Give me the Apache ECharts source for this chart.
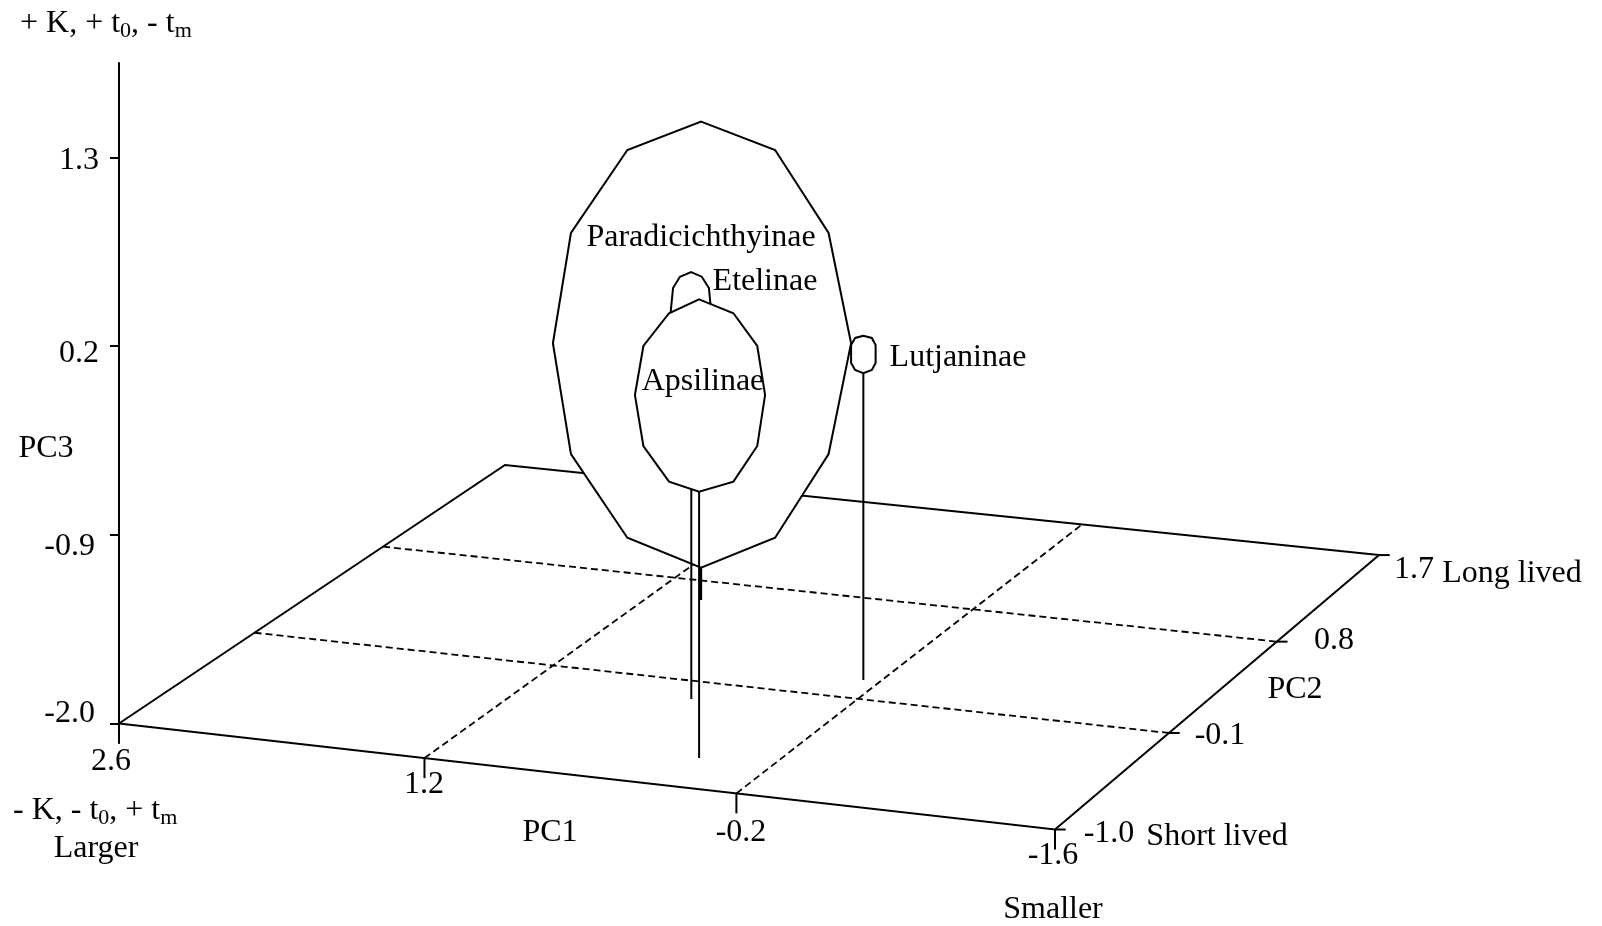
<!DOCTYPE html>
<html>
<head>
<meta charset="utf-8">
<style>html,body{margin:0;padding:0;background:#fff}#c{width:1602px;height:926px}</style>
<script src="https://cdn.jsdelivr.net/npm/echarts@6/dist/echarts.min.js"></script>
</head>
<body>
<div id="c"></div>
<script>
// ---- axis ticks ----
const pc1Ticks = [2.6, 1.2, -0.2, -1.6];
const pc2Ticks = [-1.0, -0.1, 0.8, 1.7];
const pc3Ticks = [-2.0, -0.9, 0.2, 1.3];

// ---- floor corners, read in plot units [PC1 scale, PC3 scale] ----
const floorFrontLeft  = [2.6, -2.0];
const floorFrontRight = [-1.6, -2.618];
const floorBackRight  = [-3.054, -1.018];
const floorBackLeft   = [0.868, -0.493];

// ---- group outlines, in plot units [PC1 scale, PC3 scale] ----
const paradicichthyinae = [[-0.012,1.509],[-0.344,1.344],[-0.584,0.860],[-0.685,0.217],[-0.584,-0.429],[-0.344,-0.917],[-0.012,-1.092],[0.319,-0.917],[0.572,-0.429],[0.653,0.217],[0.572,0.860],[0.319,1.344]];
const etelinae = [[0.033,0.632],[-0.015,0.605],[-0.047,0.539],[-0.061,0.353],[-0.047,0.178],[0.033,0.090],[0.114,0.178],[0.128,0.353],[0.114,0.539],[0.083,0.605]];
const apsilinae = [[-0.003,0.473],[-0.157,0.392],[-0.264,0.201],[-0.299,-0.085],[-0.264,-0.382],[-0.157,-0.590],[-0.003,-0.648],[0.132,-0.590],[0.247,-0.382],[0.285,-0.085],[0.247,0.201],[0.132,0.392]];
const lutjaninae = [[-0.740,0.261],[-0.703,0.248],[-0.685,0.207],[-0.685,0.102],[-0.703,0.061],[-0.740,0.042],[-0.778,0.061],[-0.795,0.102],[-0.795,0.207],[-0.778,0.248]];

// ---- drop lines from each group to the floor ----
const paradicichthyinaeStem = [[-0.010,-1.092],[-0.010,-1.280]];
const etelinaeStem = [[0.032,0.090],[0.032,-1.857]];
const apsilinaeStem = [[-0.003,-0.648],[-0.003,-2.201]];
const lutjaninaeStem = [[-0.740,0.042],[-0.740,-1.746]];

const FONT = '"Liberation Serif","Times New Roman",serif';
const FS = 32, INK = '#000', LW = 2;

// Perspective map of the floor: (PC1, PC2) -> plot units
function floorMap() {
  const [p0, p1, p2, p3] = [floorFrontLeft, floorFrontRight, floorBackRight, floorBackLeft];
  const sx = p0[0]-p1[0]+p2[0]-p3[0], sy = p0[1]-p1[1]+p2[1]-p3[1];
  const dx1 = p1[0]-p2[0], dx2 = p3[0]-p2[0], dy1 = p1[1]-p2[1], dy2 = p3[1]-p2[1];
  const det = dx1*dy2-dx2*dy1;
  const g = (sx*dy2-dx2*sy)/det, h = (dx1*sy-sx*dy1)/det;
  const a = p1[0]-p0[0]+g*p1[0], b = p3[0]-p0[0]+h*p3[0];
  const d = p1[1]-p0[1]+g*p1[1], e = p3[1]-p0[1]+h*p3[1];
  return function (pc1, pc2) {
    const u = (2.6-pc1)/4.2, w = (pc2+1.0)/2.7, q = 1+g*u+h*w;
    return [(a*u+b*w+p0[0])/q, (d*u+e*w+p0[1])/q];
  };
}
const floor = floorMap();

function line(data, z, opt) {
  return Object.assign({
    type: 'line', data, z, clip: false, symbol: 'none', silent: true, animation: false,
    lineStyle: { color: INK, width: LW, cap: 'butt', join: 'miter' }
  }, opt || {});
}
function dashed(data) {
  return line(data, 2, { lineStyle: { color: INK, width: 1.8, type: [7, 4] } });
}
function polygon(points, z) {
  return {
    type: 'custom', z, silent: true, animation: false, clip: false,
    coordinateSystem: 'cartesian2d', data: [points[0]],
    renderItem: function (params, api) {
      return {
        type: 'polygon',
        shape: { points: points.map(p => api.coord(p)) },
        style: { fill: '#fff', stroke: INK, lineWidth: LW, lineJoin: 'miter' }
      };
    }
  };
}

const series = [];
// floor outline
series.push(line([floorFrontLeft, floorFrontRight, floorBackRight, floorBackLeft, floorFrontLeft], 2));
// floor grid
[1.2, -0.2].forEach(v => series.push(dashed([floor(v, -1.0), floor(v, 1.7)])));
[-0.1, 0.8].forEach(v => series.push(dashed([floor(2.6, v), floor(-1.6, v)])));
// floor ticks
pc1Ticks.forEach(v => { const p = floor(v, -1.0); series.push(line([p, [p[0], p[1]-0.1166]], 2)); });
pc2Ticks.forEach(v => { const p = floor(-1.6, v); series.push(line([p, [p[0]-0.048, p[1]]], 2)); });
// groups back to front
series.push(line(paradicichthyinaeStem, 3, { lineStyle: { color: INK, width: 3 } }));
series.push(polygon(paradicichthyinae, 4));
series.push(line(etelinaeStem, 5));
series.push(polygon(etelinae, 6));
series.push(line(apsilinaeStem, 7));
series.push(polygon(apsilinae, 8));
series.push(line(lutjaninaeStem, 9));
series.push(polygon(lutjaninae, 10));

function text(t, x, y, align, rich) {
  const st = { text: t, x, y, fill: INK, font: FS + 'px ' + FONT, textAlign: align || 'center', textVerticalAlign: 'middle' };
  if (rich) st.rich = rich;
  return { type: 'text', z: 100, silent: true, style: st };
}
const subRich = {
  b: { fontSize: FS, fontFamily: FONT, fill: INK, lineHeight: 36 },
  s: { fontSize: 22, fontFamily: FONT, fill: INK, lineHeight: 26, verticalAlign: 'bottom' }
};

const chart = echarts.init(document.getElementById('c'), null, { renderer: 'canvas' });
chart.setOption({
  animation: false,
  backgroundColor: '#fff',
  grid: { left: 119, right: 210, top: 63, bottom: 183, containLabel: false },
  xAxis: { type: 'value', inverse: true, min: -3.11212, max: 2.6, show: false, splitLine: { show: false } },
  yAxis: {
    type: 'value', min: -2.11369, max: 1.85097, position: 'left',
    axisLine: { show: true, onZero: false, lineStyle: { color: INK, width: LW } },
    axisTick: { show: true, length: 9, inside: false, customValues: pc3Ticks, lineStyle: { color: INK, width: LW } },
    splitLine: { show: false },
    axisLabel: {
      show: true, customValues: pc3Ticks, margin: 20, color: INK, fontFamily: FONT, fontSize: FS,
      formatter: function (v) {
        const s = v.toFixed(1);
        if (v === -2) return '{low|' + s + '}';
        if (v === -0.9) return '{mid|' + s + '}';
        if (v === 0.2) return '{top2|' + s + '}';
        return '{top1|' + s + '}';
      },
      rich: {
        low: { fontSize: FS, fontFamily: FONT, padding: [0, 4, 19, 0] },
        mid: { fontSize: FS, fontFamily: FONT, padding: [24, 4, 0, 0] },
        top2: { fontSize: FS, fontFamily: FONT, padding: [14, 0, 0, 0] },
        top1: { fontSize: FS, fontFamily: FONT, padding: [6, 0, 0, 0] }
      }
    }
  },
  series,
  graphic: { elements: [
    text('{b|+ K, + t}{s|0}{b|, - t}{s|m}', 20, 24, 'left', subRich),
    text('{b|- K, - t}{s|0}{b|, + t}{s|m}', 13, 811, 'left', subRich),
    text('Larger', 96, 849),
    text('PC3', 46, 449),
    text('PC1', 550, 833),
    text('PC2', 1295, 690),
    text(pc1Ticks[0].toFixed(1), 111, 762),
    text(pc1Ticks[1].toFixed(1), 424, 785),
    text(pc1Ticks[2].toFixed(1), 741, 833),
    text(pc1Ticks[3].toFixed(1), 1053, 856),
    text(pc2Ticks[0].toFixed(1), 1109, 834),
    text(pc2Ticks[1].toFixed(1), 1220, 736),
    text(pc2Ticks[2].toFixed(1), 1334, 641),
    text(pc2Ticks[3].toFixed(1), 1414, 570),
    text('Long lived', 1512, 574),
    text('Short lived', 1217, 837),
    text('Smaller', 1053, 910),
    text('Paradicichthyinae', 701, 238),
    text('Etelinae', 765, 282),
    text('Apsilinae', 703, 382),
    text('Lutjaninae', 958, 358)
  ] }
});
</script>
</body>
</html>
